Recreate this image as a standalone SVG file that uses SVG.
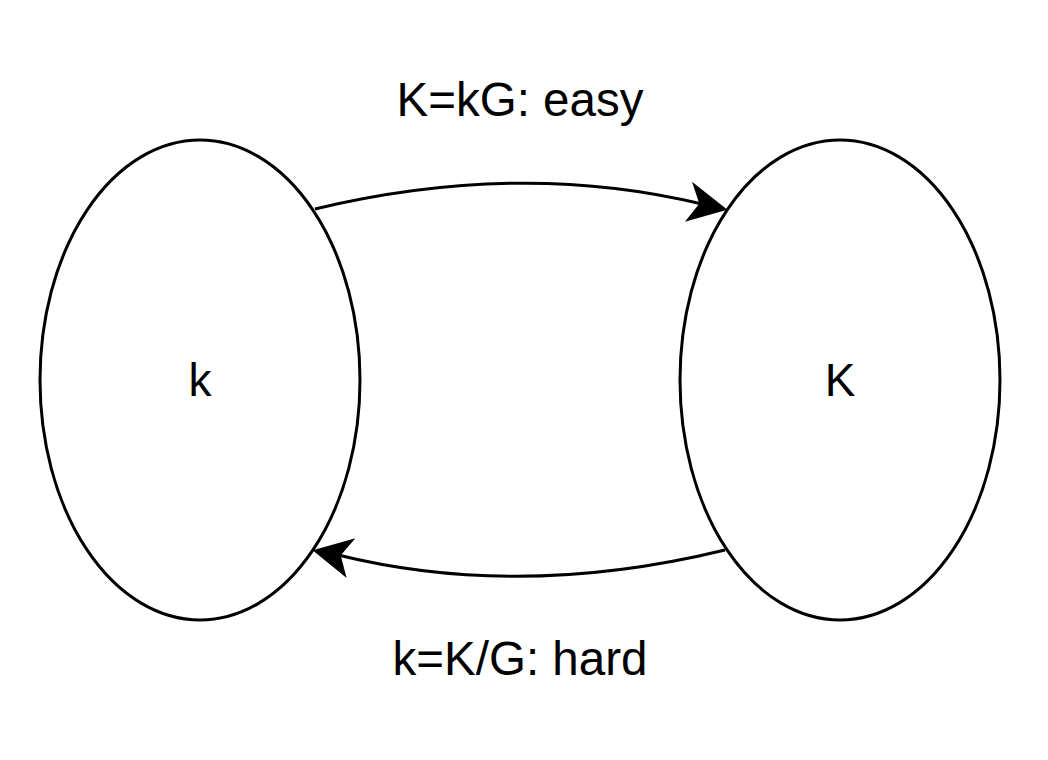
<svg xmlns="http://www.w3.org/2000/svg" width="1048" height="760" viewBox="0 0 1048 760">
<style>
.node{fill:#fff;stroke:#000;stroke-width:3}
.edge{fill:none;stroke:#000;stroke-width:3}
.head{fill:#000;stroke:#000;stroke-width:3;stroke-linejoin:miter}
text{font-family:"Liberation Sans",Arial,sans-serif;font-size:46px;fill:#000;text-anchor:middle}
.lbl{font-size:47.5px}
</style>
<rect width="1048" height="760" fill="#fff"/>
<g id="node-k">
<ellipse class="node" cx="200" cy="380" rx="160" ry="240"/>
<text x="200" y="396">k</text>
</g>
<g id="node-K">
<ellipse class="node" cx="840" cy="380" rx="160" ry="240"/>
<text x="840" y="396">K</text>
</g>
<g id="connectors">
<path class="edge" d="M315,209 Q520,160 702,204"/>
<polygon class="head" points="724,209 695,186 701,204 689,219"/>
<path class="edge" d="M725,550 Q520,600 338,555"/>
<polygon class="head" points="316,551 344,574 339,555 351,541"/>
<text class="lbl" x="520" y="116">K=kG: easy</text>
<text class="lbl" x="520" y="675">k=K/G: hard</text>
</g>
</svg>
